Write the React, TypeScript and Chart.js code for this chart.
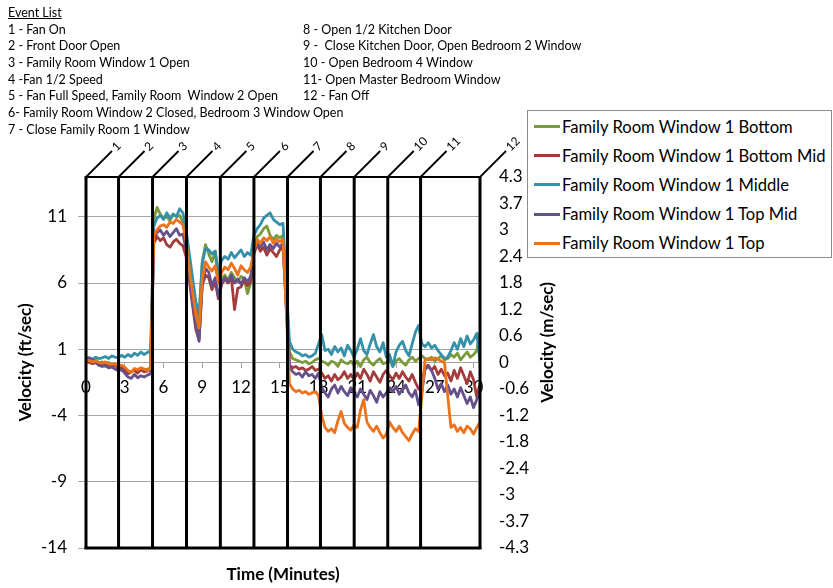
import React, { useEffect, useRef } from "react";
import { Chart, registerables } from "chart.js";

Chart.register(...registerables);

const FONT = "Lato, 'Open Sans', sans-serif";

// ---- axes ----
const SAMPLE_MINUTES = 0.25;
const X_MIN = 0;
const X_MAX = 30.5;
const X_TICKS = [0, 3, 6, 9, 12, 15, 18, 21, 24, 27, 30];
const LEFT_MIN = -14;
const LEFT_MAX = 14;
const LEFT_TICKS = [-14, -9, -4, 1, 6, 11];
const FT_TO_M = 0.3048;
const RIGHT_TICKS_FT = [-14, -12, -10, -8, -6, -4, -2, 0, 2, 4, 6, 8, 10, 12, 14];
const RIGHT_TICK_LABELS = ["-4.3", "-3.7", "-3", "-2.4", "-1.8", "-1.2", "-0.6", "0", "0.6", "1.2", "1.8", "2.4", "3", "3.7", "4.3"];

// ---- events ----
const EVENT_TIMES = [0, 2.52, 5.15, 7.78, 10.4, 13.0, 15.6, 18.15, 20.76, 23.36, 25.9, 30.5];
const EVENT_LABELS = ["1", "2", "3", "4", "5", "6", "7", "8", "9", "10", "11", "12"];
const EVENT_LIST_TITLE = "Event List";
const EVENT_LIST_LEFT = [
  "1 - Fan On",
  "2 - Front Door Open",
  "3 - Family Room Window 1 Open",
  "4 -Fan 1/2 Speed",
  "5 - Fan Full Speed, Family Room  Window 2 Open",
  "6- Family Room Window 2 Closed, Bedroom 3 Window Open",
  "7 - Close Family Room 1 Window",
];
const EVENT_LIST_RIGHT = [
  "8 - Open 1/2 Kitchen Door",
  "9 -  Close Kitchen Door, Open Bedroom 2 Window",
  "10 - Open Bedroom 4 Window",
  "11- Open Master Bedroom Window",
  "12 - Fan Off",
];

// ---- series ----
const SERIES_NAMES = [
  "Family Room Window 1 Bottom",
  "Family Room Window 1 Bottom Mid",
  "Family Room Window 1 Middle",
  "Family Room Window 1 Top Mid",
  "Family Room Window 1 Top",
];
const SERIES_COLORS = ["#7a9a3c", "#a33d3b", "#3590aa", "#65508c", "#ec7319"];

const bottom = [
  0.3, 0.2, 0.1, 0.2, 0.0, 0.05, -0.1, 0.0, -0.2, -0.1, -0.3, -0.35, -0.5, -0.8, -0.7, -0.55, -0.6, -0.45, -0.55, -0.5, -0.4,
  10.8, 11.7, 11.2, 10.9, 11.0, 10.7, 11.2, 11.0, 11.1, 10.6,
  9.6, 7.8, 6.0, 4.2, 3.3,
  7.6, 8.9, 8.2, 7.6, 8.4, 6.0,
  6.3, 6.6, 6.2, 6.8, 6.4, 6.1, 6.5, 6.3, 5.2, 6.0,
  8.8, 9.5, 9.7, 10.1, 10.3, 9.6, 9.3, 9.6, 9.4, 9.6, 5.5,
  0.8, 0.3, 0.2, 0.1, 0.0, 0.1, -0.1, 0.0, 0.2, 0.3,
  0.1, 0.0, -0.2, 0.1, 0.0, -0.3, 0.2, 0.0, -0.1, 0.1, -0.2,
  0.1, -0.3, 0.2, 0.4, 0.0, -0.2, 0.1, 0.3, -0.1, 0.0, 0.2, -0.3, 0.1, 0.3, 0.0, -0.2, 0.2, 0.4, 0.1, 0.3,
  0.5, 0.3, 0.2, 0.4, 0.1, 0.3, 0.5, 0.2,
  0.3, 0.6, 0.4, 0.7, 0.2, 0.5, 0.8, 0.4, 0.6, 0.9, 2.3,
];
const bottomMid = [
  0.1, 0.0, -0.1, 0.0, -0.2, -0.1, -0.25, -0.15, -0.3, -0.2, -0.45, -0.4, -0.55, -0.85, -0.7, -0.6, -0.8, -0.55, -0.7, -0.65, -0.5,
  9.0, 9.5, 9.2, 9.4, 8.9, 8.7, 9.1, 9.3, 9.0, 8.8,
  8.0, 6.2, 4.3, 2.5, 1.7,
  5.8, 6.6, 6.4, 5.5, 6.1, 4.8,
  5.9, 6.3, 6.0, 6.4, 4.0, 5.6, 5.7, 6.2, 5.8, 6.1,
  8.2, 8.9, 8.4, 8.7, 8.1, 8.6, 8.3, 8.0, 8.5, 8.7, 4.5,
  -0.2, -0.4, -0.3, -0.5, -0.4, -0.6, -0.5, -0.3, -0.6, -0.5,
  -0.8, -1.2, -1.0, -1.4, -0.9, -1.3, -1.1, -0.7, -1.2, -0.9, -1.3,
  -0.8, -1.2, -0.5, -0.9, -1.4, -0.7, -1.1, -1.5, -0.9, -0.6, -1.0, -1.3, -0.8, -1.2, -0.7, -1.1, -1.4, -0.9, -1.5, -2.0,
  -1.6, -0.4, -0.2, -0.6, -0.3, -0.9, -0.5, -1.0,
  -0.8, -1.4, -0.6, -1.2, -0.4, -1.0, -1.6, -0.7, -1.3, -2.6, -1.6,
];
const middle = [
  0.3, 0.35, 0.25, 0.4, 0.3, 0.35, 0.45, 0.3, 0.5, 0.4, 0.35, 0.55, 0.4, 0.6, 0.45, 0.7, 0.55, 0.8, 0.6, 0.75, 0.9,
  10.3, 10.9, 11.1, 10.8, 11.3, 10.9, 11.2, 11.0, 11.6, 11.3,
  10.0, 8.2, 6.4, 4.6, 3.6,
  7.5, 8.6, 8.5, 8.2, 8.4, 6.8,
  7.7, 8.0, 7.8, 8.3, 7.9, 8.2, 8.5, 8.0, 8.3, 8.1,
  9.6, 10.1, 10.4, 10.9, 11.1, 11.3, 10.8, 10.6, 10.4, 10.5, 6.0,
  1.6, 1.0, 0.8, 0.7, 0.5, 0.6, 0.4, 0.5, 0.7, 1.4,
  2.1, 0.9, 1.0, 0.6, 1.2, 0.8, 1.1, 0.5, 1.3, 0.9, 0.4,
  1.0, 1.8, 0.9, 0.6, 1.4, 2.1, 1.2, 0.8, 1.5, 0.4, 0.6, -0.3, 0.8, 1.3, 1.6, 0.9, 0.5, 1.4, 2.3, 2.8,
  1.4, 1.2, 1.5, 1.1, 1.3, 0.9, 0.6, 0.3,
  0.4, 0.9, 1.5, 1.0, 1.8, 1.2, 2.0, 1.4, 1.7, 2.2, 0.0,
];
const topMid = [
  0.3, 0.35, 0.2, 0.0, -0.2, -0.3, -0.25, -0.4, -0.35, -0.5, -0.6, -0.55, -0.8, -1.1, -1.2, -0.9, -1.15, -1.0, -1.1, -0.95, -0.85,
  9.4, 9.8, 10.0, 9.6, 9.9, 9.5, 9.8, 10.1, 9.6, 9.7,
  8.5, 6.6, 4.6, 2.8, 1.6,
  6.0, 7.1, 6.8, 5.8, 6.4, 5.0,
  6.0, 6.4, 6.1, 6.6, 6.0, 6.3, 5.9, 6.4, 6.1, 6.5,
  8.6, 9.0, 8.7, 9.1, 8.5, 8.9, 8.6, 9.0, 8.7, 9.0, 4.2,
  -0.3, -0.7, -0.9, -0.8, -1.1, -0.7, -1.0, -0.9, -1.2, -0.8,
  -1.9, -2.3, -2.6, -2.0, -1.7, -2.3, -1.8, -2.2, -2.5, -1.9, -2.3,
  -2.6, -2.0, -2.4, -2.8, -2.1, -2.5, -3.0, -2.2, -2.6, -2.3, -1.9, -2.2, -1.8, -2.4, -2.0, -1.7, -2.3, -2.6, -2.1, -3.2,
  -2.2, -0.5, -0.3, -0.6, -1.2, -2.0, -1.6, -2.2,
  -1.7, -2.4, -2.0, -2.6, -1.9, -2.5, -3.1, -2.6, -3.4, -2.8, -2.2,
];
const top = [
  0.2, 0.15, 0.05, 0.1, 0.0, -0.05, 0.05, -0.1, -0.15, -0.1, -0.25, -0.2, -0.35, -0.6, -0.75, -0.45, -0.55, -0.4, -0.5, -0.6, -0.45,
  9.6, 10.0, 10.3, 10.4, 10.2, 10.6, 10.5, 10.8, 10.6, 10.4,
  9.2, 7.0, 5.3, 3.6, 2.6,
  6.3, 7.6, 7.2, 6.9, 7.3, 6.0,
  6.8, 7.2, 7.0, 7.5, 7.1, 6.6, 7.3, 7.0, 6.8, 7.2,
  8.4, 9.3, 9.0, 9.4, 9.2, 9.5, 9.0, 9.3, 9.1, 9.3, 4.0,
  -1.6, -2.0, -2.2, -2.1, -2.3, -2.2, -2.4, -2.3, -2.2, -2.5,
  -4.0, -4.9, -5.2, -5.0, -5.3, -4.4, -3.7, -4.6, -4.9, -5.1, -4.7,
  -4.9, -3.6, -2.8, -4.5, -4.9, -5.2, -4.8, -5.3, -5.7, -5.4, -4.5, -4.9, -5.2, -4.8, -5.3, -5.6, -5.9, -5.4, -5.0, -5.2,
  -2.5, 0.2, 0.3, 0.2, 0.35, 0.25, 0.1, 0.0,
  -2.5, -4.9, -4.7, -5.2, -4.9, -5.3, -4.8, -5.0, -5.4, -4.9, -4.5,
];

const SERIES_VALUES = [bottom, bottomMid, middle, topMid, top];

const overlayPlugin = {
  id: "eventOverlay",
  afterDatasetsDraw(chart: any) {
    const { ctx, chartArea, scales } = chart;
    const xs = scales.x;
    const { left, right, top: t, bottom: b } = chartArea;
    ctx.save();
    ctx.strokeStyle = "#000";
    ctx.lineCap = "butt";
    // frame top and bottom
    ctx.lineWidth = 2;
    ctx.beginPath();
    ctx.moveTo(left, t);
    ctx.lineTo(right, t);
    ctx.stroke();
    ctx.lineWidth = 3;
    ctx.beginPath();
    ctx.moveTo(left - 1.5, b);
    ctx.lineTo(right + 1.5, b);
    ctx.stroke();
    // event markers
    EVENT_TIMES.forEach((time, i) => {
      const px = xs.getPixelForValue(time);
      ctx.lineWidth = 3;
      ctx.beginPath();
      ctx.moveTo(px, t - 1);
      ctx.lineTo(px, b);
      ctx.stroke();
      ctx.lineWidth = 1.8;
      ctx.beginPath();
      ctx.moveTo(px, t);
      ctx.lineTo(px + 26, t - 26);
      ctx.stroke();
      ctx.save();
      ctx.translate(px + 28, t - 28);
      ctx.rotate(-Math.PI / 4);
      ctx.fillStyle = "#000";
      ctx.font = `12px ${FONT}`;
      ctx.textAlign = "left";
      ctx.textBaseline = "middle";
      ctx.fillText(EVENT_LABELS[i], 0, 0);
      ctx.restore();
    });
    // axis titles
    ctx.fillStyle = "#000";
    ctx.font = `bold 17px ${FONT}`;
    ctx.textAlign = "center";
    ctx.textBaseline = "middle";
    ctx.fillText("Time (Minutes)", (left + right) / 2, b + 27);
    ctx.save();
    ctx.translate(left - 60, (t + b) / 2);
    ctx.rotate(-Math.PI / 2);
    ctx.fillText("Velocity (ft/sec)", 0, 0);
    ctx.restore();
    ctx.save();
    ctx.translate(right + 68, (t + b) / 2 - 20);
    ctx.rotate(-Math.PI / 2);
    ctx.fillText("Velocity (m/sec)", 0, 0);
    ctx.restore();
    ctx.restore();
  },
};

export default function App() {
  const canvasRef = useRef<HTMLCanvasElement>(null);

  useEffect(() => {
    const canvas = canvasRef.current;
    if (!canvas) return;
    Chart.defaults.font.family = FONT;
    Chart.defaults.color = "#000";
    const chart = new Chart(canvas, {
      type: "line",
      data: {
        datasets: SERIES_VALUES.map((vals, s) => ({
          label: SERIES_NAMES[s],
          data: vals.map((v, i) => ({ x: i * SAMPLE_MINUTES, y: v })),
          borderColor: SERIES_COLORS[s],
          backgroundColor: SERIES_COLORS[s],
          borderWidth: 2.8,
          pointRadius: 0,
          tension: 0,
          borderJoinStyle: "round",
          order: SERIES_VALUES.length - s,
          xAxisID: "x",
          yAxisID: "y",
        })),
      },
      options: {
        responsive: false,
        animation: false,
        devicePixelRatio: 1,
        events: [],
        layout: { padding: { top: 177, bottom: 40, left: 0, right: 0 } },
        plugins: {
          legend: { display: false },
          tooltip: { enabled: false },
          title: { display: false },
        },
        scales: {
          x: {
            type: "linear",
            min: X_MIN,
            max: X_MAX,
            position: { y: 0 } as any,
            afterBuildTicks: (s: any) => {
              s.ticks = X_TICKS.map((v) => ({ value: v }));
            },
            afterFit: (s: any) => {
              s.height = 0;
            },
            grid: { display: true, drawOnChartArea: false, drawTicks: true, tickLength: 5, color: "#a6a6a6" },
            border: { display: true, color: "#a6a6a6", width: 1 },
            ticks: { padding: 10, autoSkip: false, maxRotation: 0, font: { size: 17 }, color: "#000" },
          },
          y: {
            type: "linear",
            position: "left",
            min: LEFT_MIN,
            max: LEFT_MAX,
            afterBuildTicks: (s: any) => {
              s.ticks = LEFT_TICKS.map((v) => ({ value: v }));
            },
            afterFit: (s: any) => {
              s.width = 86;
            },
            grid: { color: "#a6a6a6", tickLength: 8, drawTicks: true },
            border: { display: false },
            ticks: { padding: 11, font: { size: 17 }, color: "#000" },
          },
          y2: {
            type: "linear",
            position: "right",
            min: LEFT_MIN * FT_TO_M,
            max: LEFT_MAX * FT_TO_M,
            afterBuildTicks: (s: any) => {
              s.ticks = RIGHT_TICKS_FT.map((v) => ({ value: v * FT_TO_M }));
            },
            afterFit: (s: any) => {
              s.width = 833 - 480;
            },
            grid: { display: false },
            border: { display: false },
            ticks: {
              padding: 11,
              font: { size: 17 },
              color: "#000",
              callback: (_v: any, i: number) => RIGHT_TICK_LABELS[i],
            },
          },
        },
      },
      plugins: [overlayPlugin],
    } as any);
    return () => chart.destroy();
  }, []);

  const textBase: React.CSSProperties = {
    position: "absolute",
    fontSize: 12.5,
    lineHeight: "15px",
    whiteSpace: "pre",
    color: "#000",
  };

  return (
    <div
      style={{
        position: "fixed",
        left: 0,
        top: 0,
        width: 833,
        height: 588,
        background: "#fff",
        overflow: "hidden",
        fontFamily: FONT,
      }}
    >
      <canvas
        ref={canvasRef}
        width={833}
        height={588}
        style={{ position: "absolute", left: 0, top: 0, width: 833, height: 588 }}
      />
      <div style={{ ...textBase, left: 8, top: 4.5, textDecoration: "underline" }}>{EVENT_LIST_TITLE}</div>
      {EVENT_LIST_LEFT.map((txt, i) => (
        <div key={"l" + i} style={{ ...textBase, left: 8, top: 21.5 + i * 16.7 }}>
          {txt}
        </div>
      ))}
      {EVENT_LIST_RIGHT.map((txt, i) => (
        <div key={"r" + i} style={{ ...textBase, left: 303, top: 21.5 + i * 16.7 }}>
          {txt}
        </div>
      ))}
      <div
        style={{
          position: "absolute",
          left: 527,
          top: 110,
          width: 305,
          height: 148,
          boxSizing: "border-box",
          border: "1px solid #8c8c8c",
          background: "#fff",
        }}
      >
        {SERIES_NAMES.map((name, i) => (
          <div
            key={name}
            style={{
              position: "absolute",
              left: 6,
              top: 15.7 + i * 29.1 - 11,
              height: 22,
              display: "flex",
              alignItems: "center",
              whiteSpace: "nowrap",
            }}
          >
            <div style={{ width: 26, height: 3, background: SERIES_COLORS[i], marginRight: 2 }} />
            <span style={{ fontSize: 16.6, color: "#000" }}>{name}</span>
          </div>
        ))}
      </div>
    </div>
  );
}
